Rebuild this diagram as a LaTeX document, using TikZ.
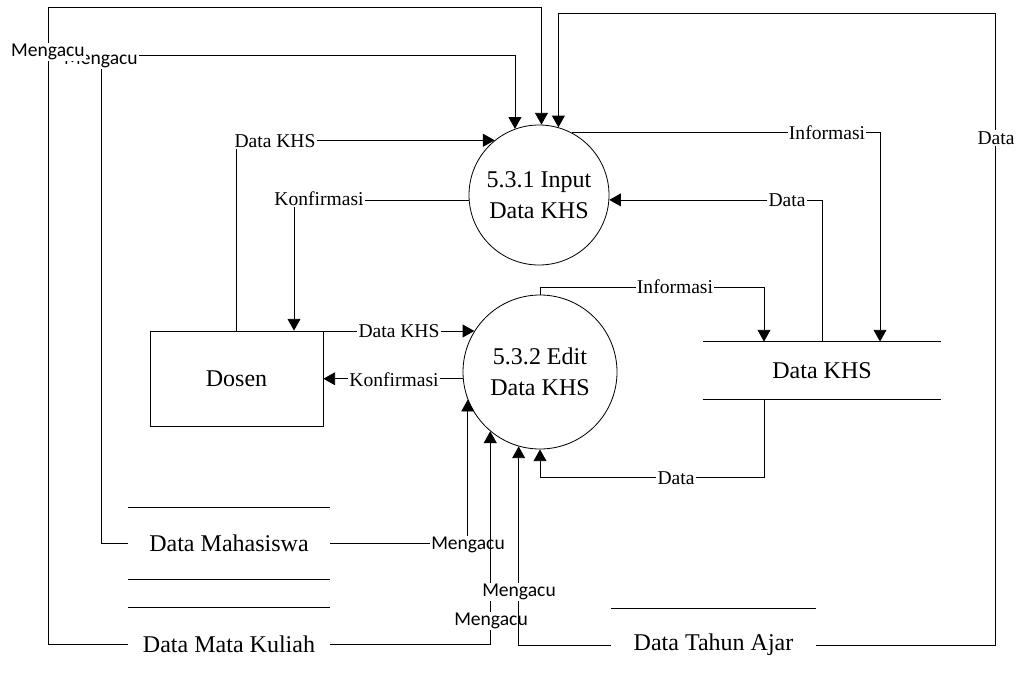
\documentclass[tikz,border=0pt]{standalone}
\usepackage{fontspec}
\setmainfont{Liberation Serif}
\newfontfamily\calib{Carlito}
\usetikzlibrary{arrows.meta,calc}

\begin{document}
\begin{tikzpicture}[x=0.03cm,y=-0.03cm,line width=0.7pt,
  flow/.style={-{Triangle[length=10pt,width=11pt]}},
  proc/.style={circle,draw,inner sep=0pt,align=center,
    font=\fontsize{20.5}{26.5}\selectfont},
  entity/.style={draw,minimum width=5.19cm,minimum height=2.85cm,
    inner sep=0pt,font=\fontsize{20.5}{24}\selectfont},
  store/.style={inner sep=0pt,font=\fontsize{20.5}{24}\selectfont},
  lbl/.style={fill=white,inner sep=1pt,font=\fontsize{16.7}{18}\selectfont},
  sanslbl/.style={fill=white,inner sep=1pt,font=\calib\fontsize{16.7}{18}\selectfont}]

\useasboundingbox (0,0) rectangle (1019,675);

% processes
\node[proc,minimum size=4.2cm]  (c1) at (539,195) {5.3.1 Input\\Data KHS};
\node[proc,minimum size=4.62cm] (c2) at (540,372) {5.3.2 Edit\\Data KHS};

% external entity
\node[entity] (dosen) at (236.5,378.5) {Dosen};

% data stores
\node[store,minimum width=7.14cm,minimum height=1.71cm] (khs) at (822,370.5) {Data KHS};
\draw (khs.north west) -- (khs.north east) (khs.south west) -- (khs.south east);

\node[store,minimum width=6.06cm,minimum height=2.13cm] (dm) at (229,543.5) {Data Mahasiswa};
\draw (dm.north west) -- (dm.north east) (dm.south west) -- (dm.south east);

\node[store,minimum width=6.06cm,minimum height=2.16cm] (dmk) at (229,644) {Data Mata Kuliah};
\draw (dmk.north west) -- (dmk.north east);

\node[store,minimum width=6.15cm,minimum height=2.16cm] (dta) at (713.5,645) {Data Tahun Ajar};
\draw (dta.north west) -- (dta.north east);

% flows into 5.3.1
\draw[flow] (dm.west) -| (101,55) -| (c1.110);
\node[sanslbl] at (101,60) {Mengacu};

\draw[flow] (dmk.west) -| (48,7) -| (c1.88);
\node[sanslbl] at (48,52) {Mengacu};

\draw[flow] (dta.east) -| (995,13) -| (c1.74);
\node[lbl] at (996,138) {Data};

\draw[flow] (dosen.north) |- (c1.129);
\node[lbl] at (275,141) {Data KHS};

\draw[flow] (c1.184) -| ($(dosen.north)+(57.5,0)$);
\node[lbl] at (319,199) {Konfirmasi};

\draw[flow] (c1.62) -| ($(khs.north)+(58,0)$);
\node[lbl] at (827,133) {Informasi};

\draw[flow] (khs.north) |- (c1.-4);
\node[lbl] at (787,200) {Data};

% flows around 5.3.2
\draw[flow] (c2.148 -| dosen.east) -- (c2.148);
\node[lbl] at (399,331) {Data KHS};

\draw[flow] (c2.185) -- (c2.185 -| dosen.east);
\node[lbl] at (394,380) {Konfirmasi};

\draw[flow] (c2.north) -- ++(0,-7) -| ($(khs.north)+(-58,0)$);
\node[lbl] at (675,287) {Informasi};

\draw[flow] ($(khs.south)+(-58,0)$) |- ($(c2.south)+(0,28)$) -- (c2.south);
\node[lbl] at (676,478) {Data};

\draw[flow] (dm.east) -| (c2.201);
\node[sanslbl] at (468,545) {Mengacu};

\draw[flow] (dmk.east) -| (c2.230);
\node[sanslbl] at (491,621) {Mengacu};

\draw[flow] (dta.west) -| (c2.254);
\node[sanslbl] at (519,592) {Mengacu};

\end{tikzpicture}
\end{document}
